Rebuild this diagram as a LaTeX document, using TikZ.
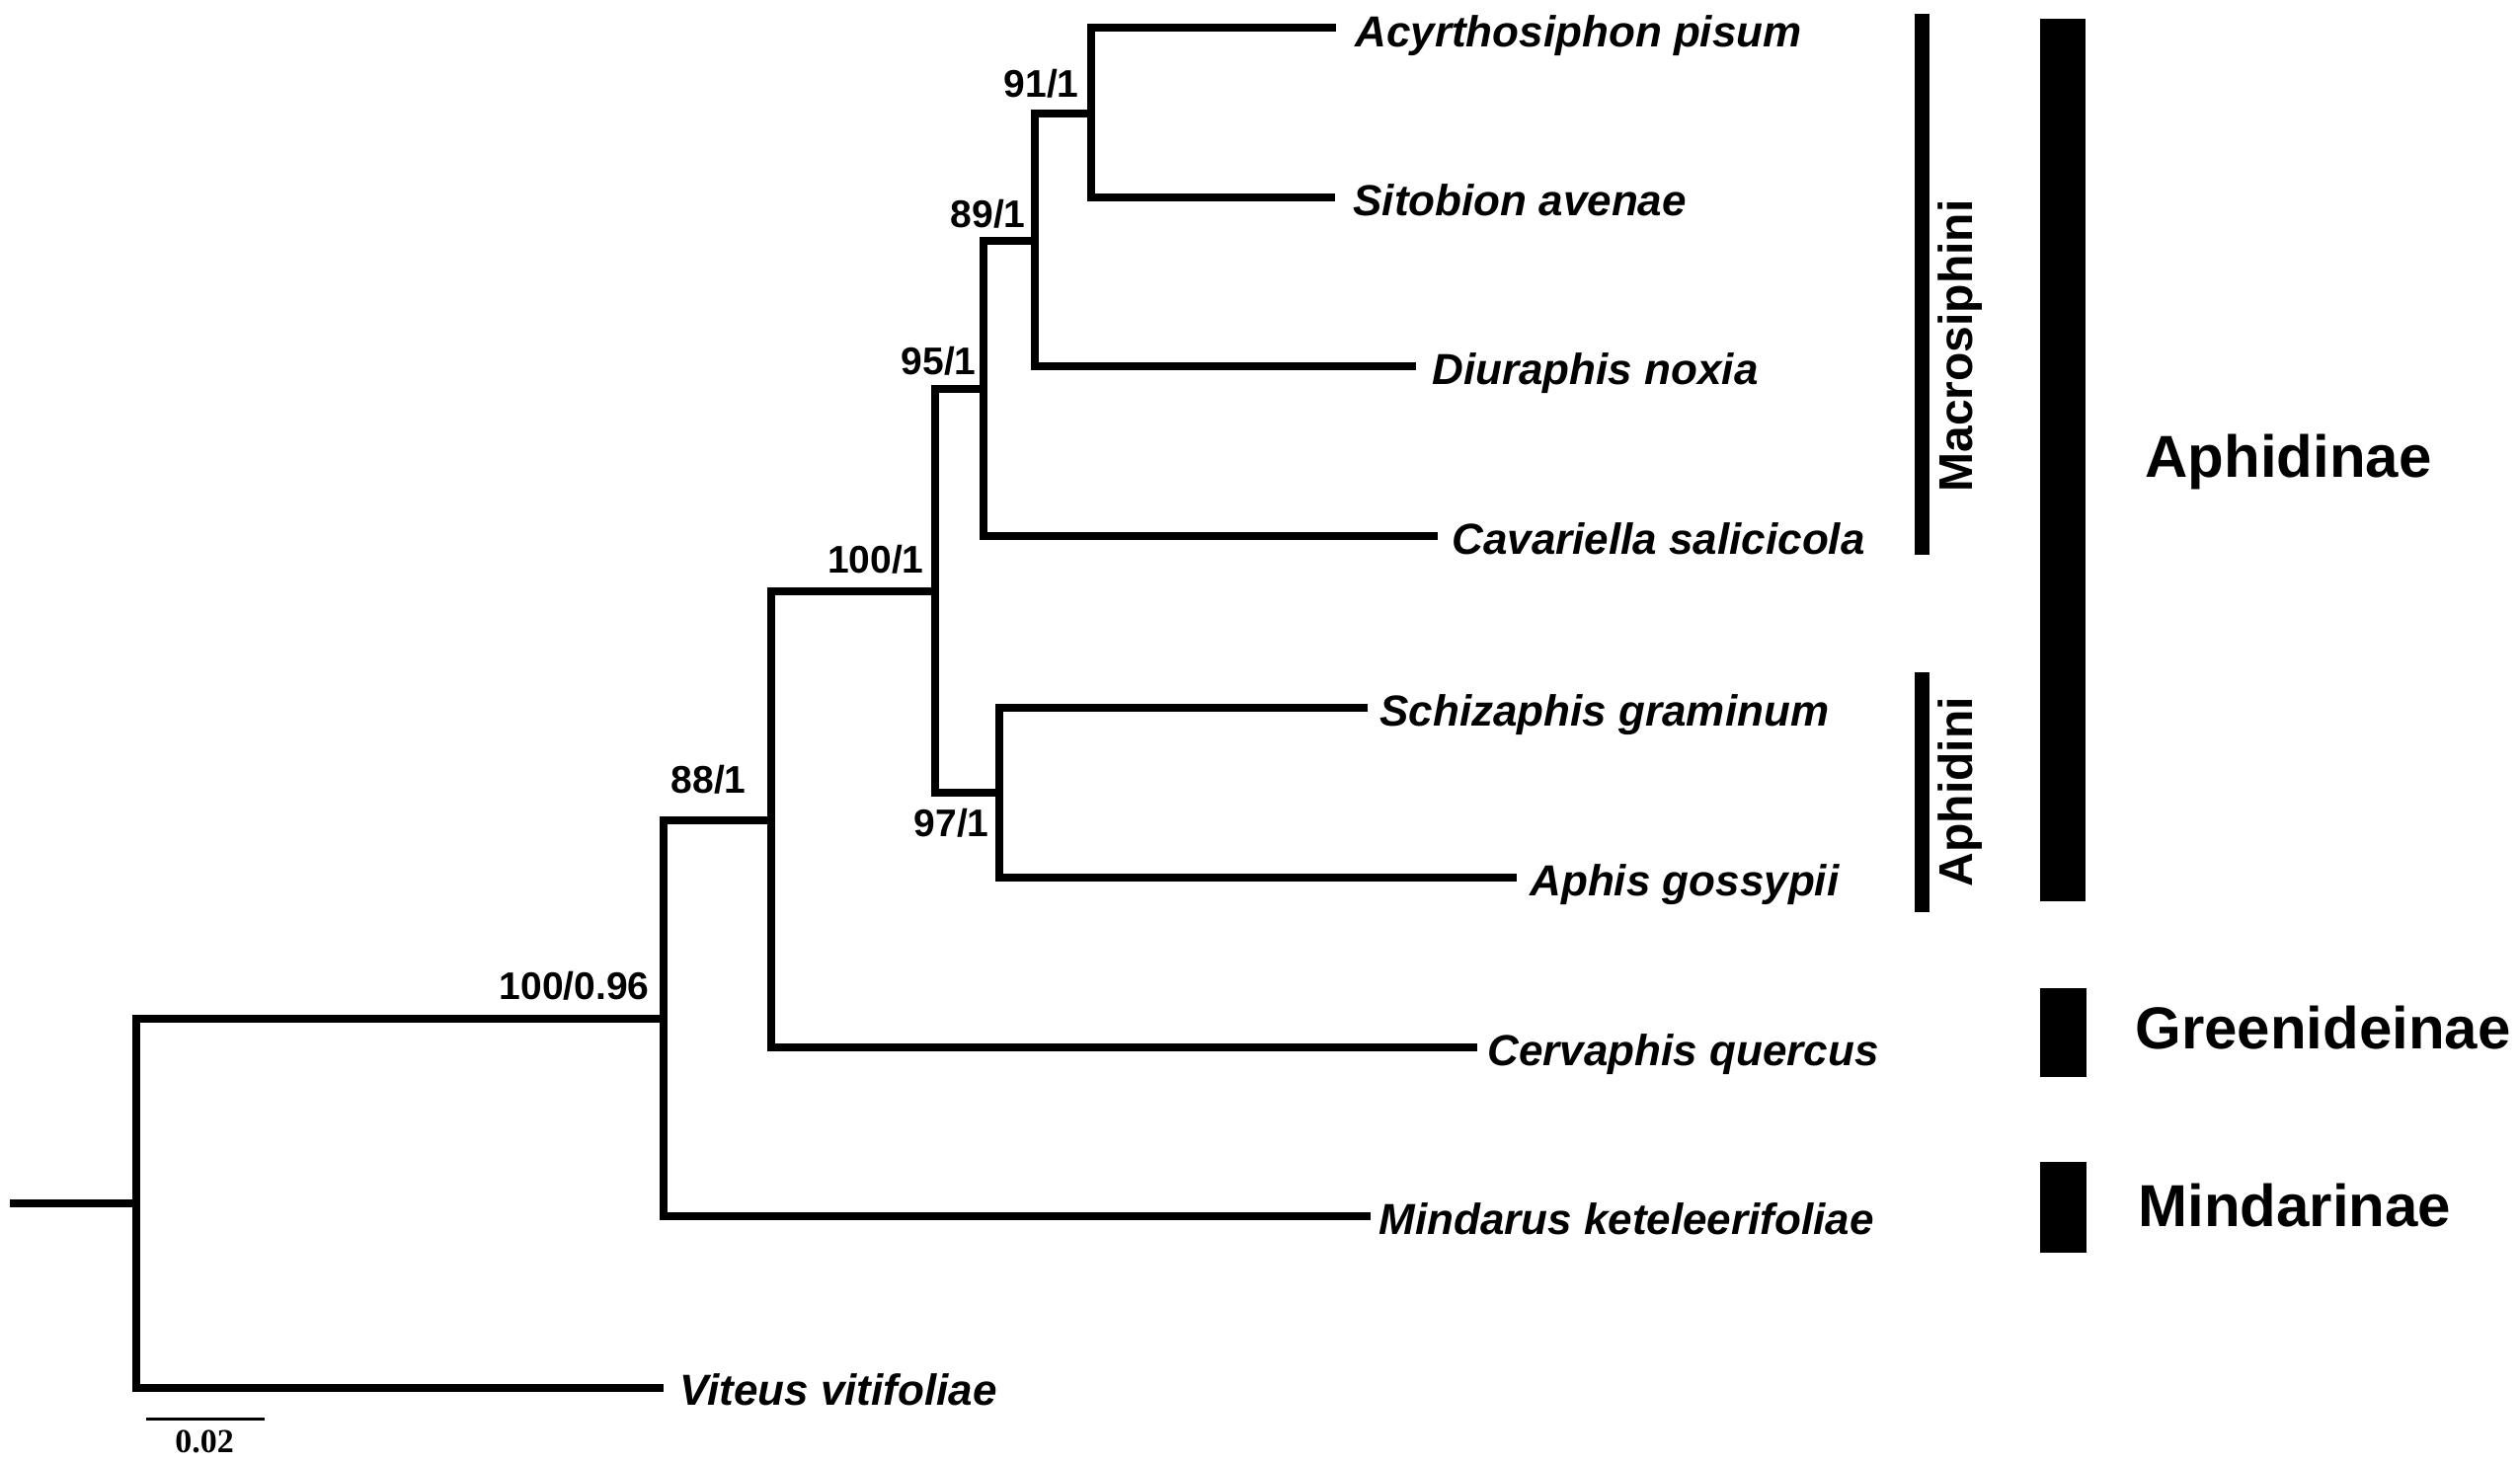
\documentclass[tikz,border=0pt]{standalone}
\usepackage{fontspec}
\setmainfont{Liberation Sans}
\newfontfamily\scalefont{Liberation Serif}
\begin{document}
\begin{tikzpicture}[x=0.5pt,y=-0.5pt,
  branch/.style={line width=4.25pt, line join=miter},
  taxon/.style={font=\fontsize{22}{24}\selectfont\bfseries\itshape, anchor=base west, inner sep=0pt},
  boot/.style={font=\fontsize{19.5}{22}\selectfont\bfseries, anchor=base east, inner sep=0pt},
  clade/.style={font=\fontsize{30}{34}\selectfont\bfseries, anchor=base west, inner sep=0pt},
  tribe/.style={font=\fontsize{24}{28}\selectfont\bfseries, anchor=base, rotate=90, inner sep=0pt},
  bigbar/.style={fill=black, draw=none},
  scalebar/.style={line width=1.5pt},
  scalelbl/.style={font=\fontsize{17}{20}\selectfont\scalefont\bfseries, anchor=base, inner sep=0pt}]
\useasboundingbox (0,0) rectangle (2552,1480);
\fill[white] (0,0) rectangle (2552,1480);

% internal nodes
\coordinate (stub) at (10,1219);
\coordinate (root) at (138,1219);
\coordinate (n1) at (672,1032);
\coordinate (n2) at (781,831);
\coordinate (n3) at (947,599);
\coordinate (n4) at (996,394);
\coordinate (n5) at (1048,244);
\coordinate (n6) at (1105,115);
\coordinate (n7) at (1012,803);

% leaf tips
\coordinate (tA) at (1353,28);
\coordinate (tS) at (1352,200);
\coordinate (tD) at (1434,371);
\coordinate (tC) at (1456,543);
\coordinate (tSc) at (1385,717);
\coordinate (tAg) at (1536,889);
\coordinate (tCq) at (1496,1061);
\coordinate (tM) at (1388,1232);
\coordinate (tV) at (672,1406);

% taxa labels
\node[taxon] (A) at (1372,47) {Acyrthosiphon pisum};
\node[taxon] (S) at (1370,218) {Sitobion avenae};
\node[taxon] (D) at (1450,389) {Diuraphis noxia};
\node[taxon] (C) at (1470,561) {Cavariella salicicola};
\node[taxon] (Sc) at (1397,735) {Schizaphis graminum};
\node[taxon] (Ag) at (1549,907) {Aphis gossypii};
\node[taxon] (Cq) at (1506,1079) {Cervaphis quercus};
\node[taxon] (M) at (1396,1250) {Mindarus keteleerifoliae};
\node[taxon] (V) at (688,1423) {Viteus vitifoliae};

% branches
\draw[branch] (stub) -- (root);
\draw[branch] (root) |- (n1);
\draw[branch] (root) |- (tV);
\draw[branch] (n1) |- (n2);
\draw[branch] (n1) |- (tM);
\draw[branch] (n2) |- (n3);
\draw[branch] (n2) |- (tCq);
\draw[branch] (n3) |- (n4);
\draw[branch] (n3) |- (n7);
\draw[branch] (n4) |- (n5);
\draw[branch] (n4) |- (tC);
\draw[branch] (n5) |- (n6);
\draw[branch] (n5) |- (tD);
\draw[branch] (n6) |- (tA);
\draw[branch] (n6) |- (tS);
\draw[branch] (n7) |- (tSc);
\draw[branch] (n7) |- (tAg);

% support values
\node[boot] (b6) at (1093,98) {91/1};
\node[boot] (b5) at (1039,230) {89/1};
\node[boot] (b4) at (989,379) {95/1};
\node[boot] (b3) at (936,580) {100/1};
\node[boot] (b2) at (756,803) {88/1};
\node[boot] (b1) at (658,1012) {100/0.96};
\node[boot] (b7) at (1002,847) {97/1};

% tribe bars and labels
\fill[bigbar] (1939,14) rectangle (1954,562);
\node[tribe] (macro) at (1997,350.5) {Macrosiphini};
\fill[bigbar] (1939,681) rectangle (1954,924);
\node[tribe] (aphidini) at (1997,802) {Aphidini};

% subfamily bars and labels
\fill[bigbar] (2066,18.5) rectangle (2112,913);
\node[clade] (aphidinae) at (2172,483) {Aphidinae};
\fill[bigbar] (2066,1001) rectangle (2113,1091);
\node[clade] (green) at (2162,1062) {Greenideinae};
\fill[bigbar] (2066,1177) rectangle (2113,1269);
\node[clade] (mind) at (2165,1242) {Mindarinae};

% scale bar
\coordinate (sb1) at (148,1437.5);
\coordinate (sb2) at (268,1437.5);
\draw[scalebar] (sb1) -- (sb2);
\node[scalelbl] (sbl) at (207,1471) {0.02};
\end{tikzpicture}
\end{document}
